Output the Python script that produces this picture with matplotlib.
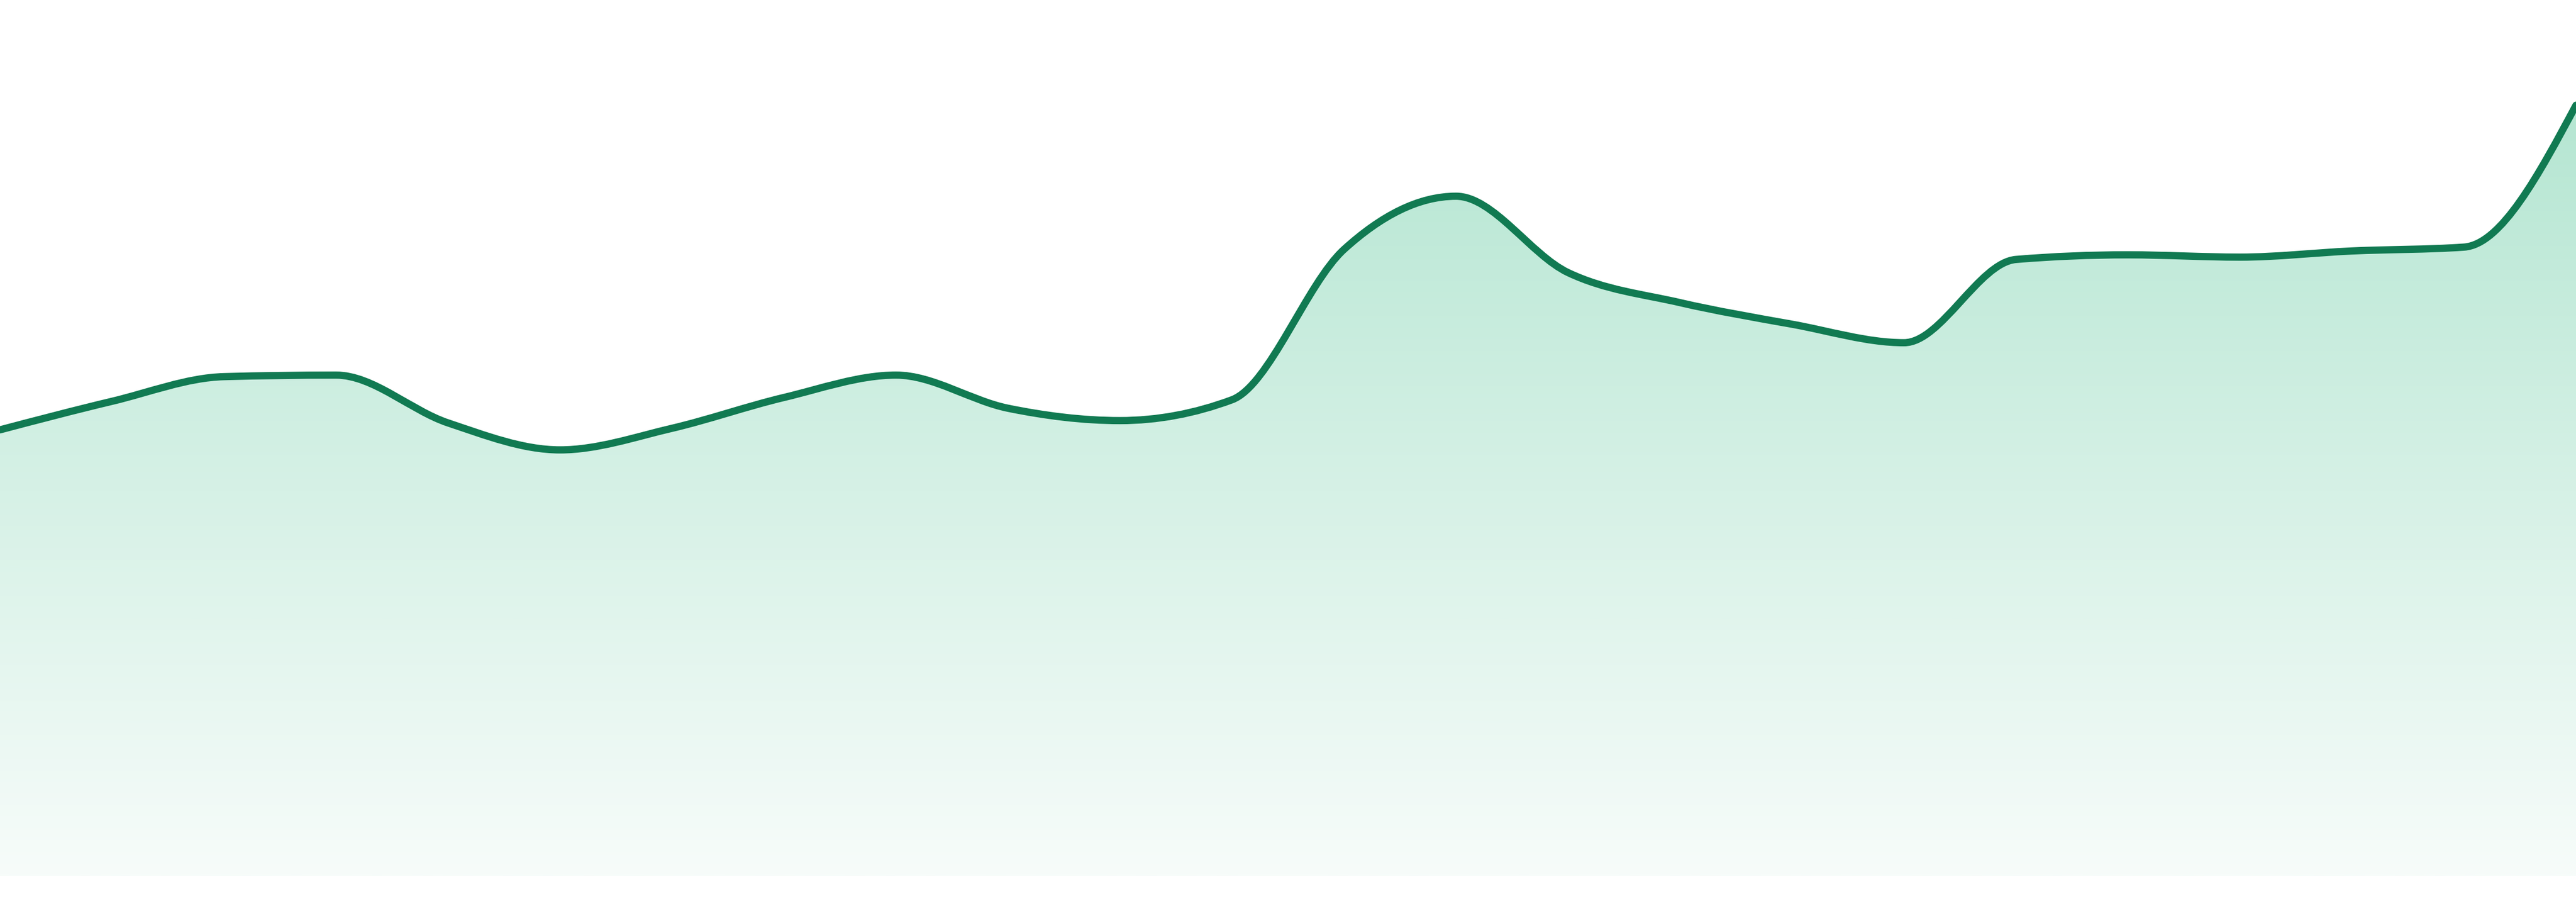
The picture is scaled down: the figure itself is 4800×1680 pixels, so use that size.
import numpy as np
import matplotlib
matplotlib.use("Agg")
import matplotlib.pyplot as plt
from matplotlib.path import Path
from matplotlib.patches import PathPatch
from matplotlib.colors import LinearSegmentedColormap

# values, one per step
values = [57.9, 61.6, 64.8, 65.0, 58.8, 55.3, 58.1, 62.1, 65.0, 60.7, 59.1, 61.8,
          81.3, 88.2, 78.3, 74.4, 71.6, 69.2, 80.0, 80.6, 80.3, 81.1, 81.6, 100.0]
steps = list(range(len(values)))

line_color = "#117a52"
fill_top = "#b5e6d2"
fill_bottom = "#f7fcfa"


def monotone_tangents(x, y):
    # same idea as d3.curveMonotoneX
    n = len(x)
    t = np.zeros(n)
    for i in range(1, n - 1):
        h0 = x[i] - x[i - 1]
        h1 = x[i + 1] - x[i]
        s0 = (y[i] - y[i - 1]) / h0
        s1 = (y[i + 1] - y[i]) / h1
        p = (s0 * h1 + s1 * h0) / (h0 + h1)
        sg = (1 if s0 >= 0 else -1) + (1 if s1 >= 0 else -1)
        t[i] = sg * min(abs(s0), abs(s1), 0.5 * abs(p))
    h = x[1] - x[0]
    t[0] = (3 * (y[1] - y[0]) / h - t[1]) / 2
    h = x[-1] - x[-2]
    t[-1] = (3 * (y[-1] - y[-2]) / h - t[-2]) / 2
    return t


def curve_verts(x, y):
    t = monotone_tangents(x, y)
    verts = [(x[0], y[0])]
    codes = [Path.MOVETO]
    for i in range(len(x) - 1):
        dx = (x[i + 1] - x[i]) / 3
        verts += [(x[i] + dx, y[i] + dx * t[i]),
                  (x[i + 1] - dx, y[i + 1] - dx * t[i + 1]),
                  (x[i + 1], y[i + 1])]
        codes += [Path.CURVE4] * 3
    return verts, codes


fig = plt.figure(figsize=(48, 16.8), dpi=100)
ax = fig.add_axes([0, 0, 1, 1])
ax.axis("off")

x = np.array(steps, dtype=float)
y = np.array(values, dtype=float)
verts, codes = curve_verts(x, y)

# area under the curve, filled with a vertical gradient
area_verts = verts + [(x[-1], 0), (x[0], 0), (x[0], y[0])]
area_codes = codes + [Path.LINETO, Path.LINETO, Path.CLOSEPOLY]
area = PathPatch(Path(area_verts, area_codes), facecolor="none", edgecolor="none")
ax.add_patch(area)

cmap = LinearSegmentedColormap.from_list("fade", [fill_bottom, fill_top])
grad = np.linspace(0, 1, 512).reshape(-1, 1)
im = ax.imshow(grad, extent=[x[0], x[-1], 0, max(values)], origin="lower",
               cmap=cmap, aspect="auto", interpolation="bilinear")
im.set_clip_path(area)

line = PathPatch(Path(verts, codes), facecolor="none", edgecolor=line_color,
                 linewidth=9.7, capstyle="round", joinstyle="round")
ax.add_patch(line)

ax.set_xlim(x[0], x[-1])
ax.set_ylim(-3.34, 113.65)

fig.savefig("out.png", dpi=100, facecolor="white")
